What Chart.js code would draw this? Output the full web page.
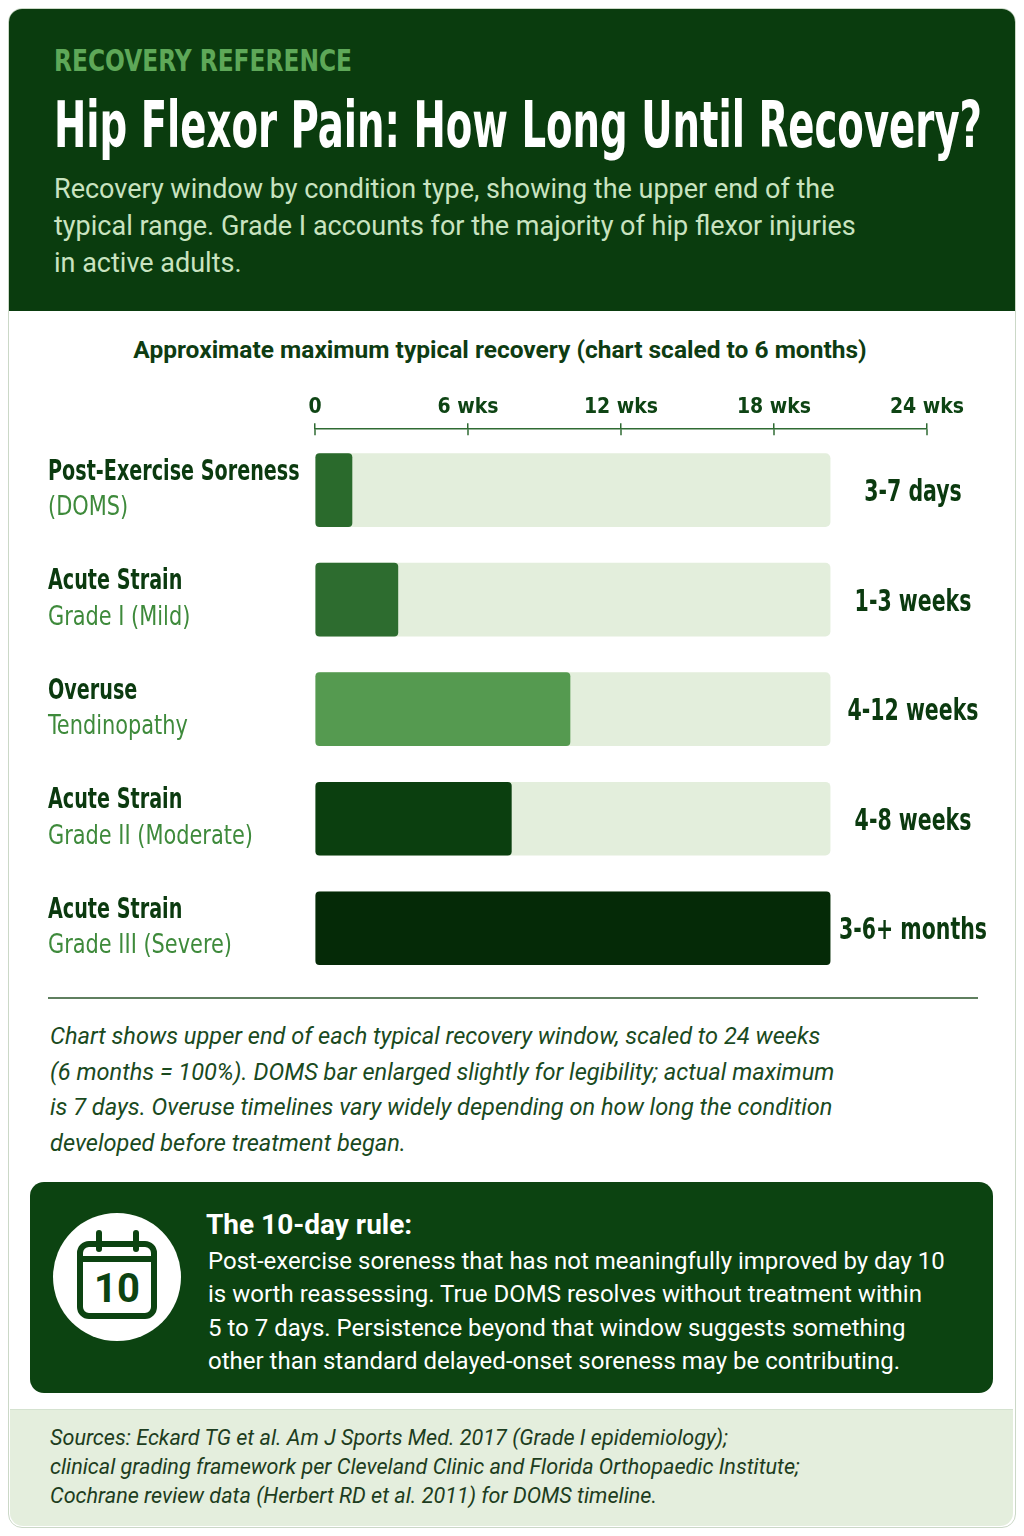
<!DOCTYPE html>
<html>
<head>
<meta charset="utf-8">
<script src="https://cdn.jsdelivr.net/npm/chart.js@4.4.1/dist/chart.umd.min.js"></script>
<style>
  body { margin: 0; width: 1024px; height: 1536px; background: #ffffff; position: relative; overflow: hidden; font-family: Roboto, "Noto Sans", sans-serif; }
  .abs { position: absolute; }
  .narrow { font-family: "Liberation Sans Narrow", "DejaVu Sans Condensed", sans-serif; }
  .fit { display: inline-block; white-space: nowrap; transform-origin: left center; }
  #card { left: 8px; top: 8px; width: 1006px; height: 1518px; border: 1.5px solid #cbd8c7; border-radius: 14px; overflow: hidden; background: #fff; }
  #header { left: 0; top: 0; width: 100%; height: 302px; background: #0a3c0e; }
  #kicker { left: 54px; top: 44px; font-size: 31px; line-height: 32px; font-weight: bold; color: #5ea858; }
  #title { left: 54px; top: 92px; font-size: 64px; line-height: 66px; font-weight: bold; color: #ffffff; }
  #subtitle { left: 54px; top: 171px; font-size: 27px; line-height: 37px; color: #c9e3c0; }
  #chartTitle { left: 0; width: 1000px; top: 336px; text-align: center; font-size: 24.5px; line-height: 28px; font-weight: bold; color: #0e3c12; }
  #chartBox { left: 0; top: 380px; width: 1024px; height: 620px; }
  #sep { left: 48px; top: 997px; width: 930px; height: 1.5px; background: #5f7f5f; }
  #note { left: 50px; top: 1019px; font-size: 23.6px; line-height: 35.7px; font-style: italic; color: #1a4a1e; }
  #callout { left: 30px; top: 1182px; width: 963px; height: 211px; background: #0c4311; border-radius: 14px; }
  #circle { left: 53px; top: 1213px; width: 128px; height: 128px; border-radius: 50%; background: #ffffff; }
  #ruleHead { left: 206px; top: 1208px; font-size: 28px; line-height: 34px; font-weight: bold; color: #ffffff; }
  #ruleBody { left: 208px; top: 1245px; font-size: 24px; line-height: 33.4px; color: #ffffff; }
  #sources { left: 10px; top: 1409px; width: 1003px; height: 116px; background: #e4eedd; border-top: 1px solid #d4e2cf; border-radius: 0 0 13px 13px; }
  #srcText { left: 50px; top: 1423px; font-size: 21.6px; line-height: 29px; font-style: italic; color: #1d3d20; }
</style>
</head>
<body>
<div id="card" class="abs">
  <div id="header" class="abs"></div>
</div>
<div id="kicker" class="abs narrow"><span class="fit" data-w="298">RECOVERY REFERENCE</span></div>
<div id="title" class="abs narrow"><span class="fit" data-w="928">Hip Flexor Pain: How Long Until Recovery?</span></div>
<div id="subtitle" class="abs">Recovery window by condition type, showing the upper end of the<br>typical range. Grade I accounts for the majority of hip flexor injuries<br>in active adults.</div>

<div id="chartTitle" class="abs">Approximate maximum typical recovery (chart scaled to 6 months)</div>
<div id="chartBox" class="abs"><canvas id="my-chart"></canvas></div>

<div id="sep" class="abs"></div>
<div id="note" class="abs">Chart shows upper end of each typical recovery window, scaled to 24 weeks<br>(6 months = 100%). DOMS bar enlarged slightly for legibility; actual maximum<br>is 7 days. Overuse timelines vary widely depending on how long the condition<br>developed before treatment began.</div>

<div id="callout" class="abs"></div>
<div id="circle" class="abs"></div>
<svg class="abs" style="left:53px;top:1213px" width="128" height="128" viewBox="0 0 128 128">
  <rect x="27" y="31" width="74" height="72" rx="9" fill="none" stroke="#0c4311" stroke-width="6"/>
  <line x1="27" y1="46" x2="101" y2="46" stroke="#0c4311" stroke-width="6"/>
  <line x1="46" y1="20" x2="46" y2="36" stroke="#0c4311" stroke-width="6" stroke-linecap="round"/>
  <line x1="83" y1="20" x2="83" y2="36" stroke="#0c4311" stroke-width="6" stroke-linecap="round"/>
  <text x="64" y="89" text-anchor="middle" font-family="Roboto, sans-serif" font-weight="bold" font-size="40" fill="#0c4311">10</text>
</svg>
<div id="ruleHead" class="abs">The 10-day rule:</div>
<div id="ruleBody" class="abs">Post-exercise soreness that has not meaningfully improved by day 10<br>is worth reassessing. True DOMS resolves without treatment within<br>5 to 7 days. Persistence beyond that window suggests something<br>other than standard delayed-onset soreness may be contributing.</div>

<div id="sources" class="abs"></div>
<div id="srcText" class="abs">Sources: Eckard TG et al. Am J Sports Med. 2017 (Grade I epidemiology);<br>clinical grading framework per Cleveland Clinic and Florida Orthopaedic Institute;<br>Cochrane review data (Herbert RD et al. 2011) for DOMS timeline.</div>

<script>
const categories = ['Post-Exercise Soreness', 'Acute Strain', 'Overuse', 'Acute Strain', 'Acute Strain'];
const subLabels = ['(DOMS)', 'Grade I (Mild)', 'Tendinopathy', 'Grade II (Moderate)', 'Grade III (Severe)'];
const rangeLabels = ['3-7 days', '1-3 weeks', '4-12 weeks', '4-8 weeks', '3-6+ months'];
// bar ends read against the top axis (weeks)
const barWeeks = [1.45, 3.25, 10.0, 7.7, 20.2];
const trackWeeks = [20.2, 20.2, 20.2, 20.2, 20.2];
const tickWeeks = [0, 6, 12, 18, 24];
const barColors = ['#2a6a2c', '#2d6c2f', '#559a50', '#0b3f0f', '#052a07'];

const narrow = '"Liberation Sans Narrow", "DejaVu Sans Condensed", sans-serif';
const squeezeBold = 0.735;
const squeezeReg = 0.86;

// squeeze the condensed headline text to the reference widths
document.querySelectorAll('.fit').forEach(el => {
  const w = el.getBoundingClientRect().width;
  el.style.transform = 'scaleX(' + (Number(el.dataset.w) / w) + ')';
});

function squeezedText(ctx, text, x, y, align, k) {
  ctx.save();
  ctx.translate(x, y);
  ctx.scale(k, 1);
  ctx.textAlign = align;
  ctx.fillText(text, 0, 0);
  ctx.restore();
}

const rowLabels = {
  id: 'rowLabels',
  afterDraw(chart) {
    const ctx = chart.ctx;
    const x = chart.scales.x;
    const y = chart.scales.y;
    ctx.save();
    // tick marks reaching below the axis line
    ctx.strokeStyle = '#2f6b33';
    ctx.lineWidth = 1.5;
    tickWeeks.forEach(v => {
      const px = x.getPixelForValue(v);
      ctx.beginPath();
      ctx.moveTo(px, chart.chartArea.top);
      ctx.lineTo(px, chart.chartArea.top + 6);
      ctx.stroke();
    });
    ctx.textBaseline = 'middle';
    categories.forEach((c, i) => {
      const cy = y.getPixelForValue(i);
      ctx.font = 'bold 29px ' + narrow;
      ctx.fillStyle = '#0b3a0f';
      squeezedText(ctx, c, 48, cy - 18, 'left', squeezeBold);
      ctx.font = '27px ' + narrow;
      ctx.fillStyle = '#3e8a3b';
      squeezedText(ctx, subLabels[i], 48, cy + 18, 'left', squeezeReg);
      ctx.font = 'bold 31px ' + narrow;
      ctx.fillStyle = '#0b3a0f';
      squeezedText(ctx, rangeLabels[i], 913, cy + 3, 'center', squeezeBold);
    });
    ctx.restore();
  }
};

const ctx = document.getElementById('my-chart').getContext('2d');
const chart = new Chart(ctx, {
  type: 'bar',
  data: {
    datasets: [
      {
        label: 'Recovery',
        data: barWeeks.map((v, i) => ({ x: v, y: i })),
        backgroundColor: barColors,
        barThickness: 73,
        borderRadius: 4,
        borderSkipped: false,
        grouped: false,
        order: 0
      },
      {
        label: 'Scale',
        data: trackWeeks.map((v, i) => ({ x: v, y: i })),
        backgroundColor: '#e3eedc',
        barThickness: 73,
        borderRadius: 5,
        borderSkipped: false,
        grouped: false,
        order: 1
      }
    ]
  },
  options: {
    indexAxis: 'y',
    responsive: true,
    maintainAspectRatio: false,
    animation: false,
    layout: { padding: { left: 315, right: 97, top: 12, bottom: 6 } },
    plugins: { legend: { display: false }, tooltip: { enabled: false } },
    scales: {
      x: {
        type: 'linear',
        position: 'top',
        min: 0,
        max: 24,
        afterBuildTicks: s => { s.ticks = tickWeeks.map(v => ({ value: v })); },
        ticks: {
          padding: 3,
          color: '#0e4414',
          font: { family: narrow, size: 21, weight: 'bold' },
          callback: v => v === 0 ? '0' : v + ' wks'
        },
        grid: { drawOnChartArea: false, tickLength: 6, color: '#2f6b33', lineWidth: 1.5 },
        border: { display: true, color: '#2f6b33', width: 1.5 }
      },
      y: {
        type: 'linear',
        display: false,
        reverse: true,
        offset: false,
        min: -0.556,
        max: 4.6
      }
    }
  },
  plugins: [rowLabels]
});
</script>
</body>
</html>
